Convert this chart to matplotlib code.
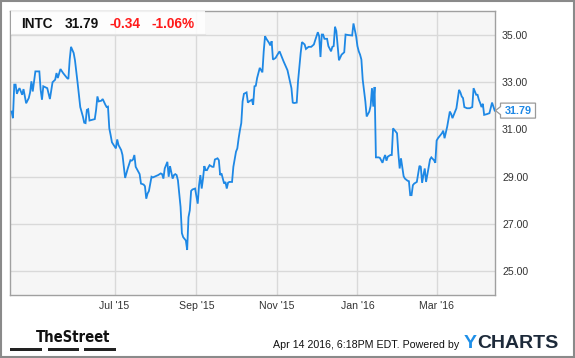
import numpy as np
import pandas as pd
import matplotlib
matplotlib.use("Agg")
import matplotlib.pyplot as plt
from matplotlib.patches import Rectangle, Polygon
from matplotlib import font_manager

# ---------------- data ----------------
start_date = "2015-04-13"
end_date = "2016-04-14"
day_offsets = [
    1, 2, 3, 4, 5, 6, 7, 9, 10, 12, 14, 15, 16, 17, 19, 22, 23, 24, 25, 28,
    30, 32, 34, 35, 36, 38, 40, 43, 44, 45, 46, 48, 49, 51, 53, 55, 56, 57, 58, 59,
    60, 62, 64, 65, 66, 67, 69, 70, 72, 73, 74, 75, 76, 77, 78, 80, 81, 82, 84, 85,
    86, 87, 89, 91, 92, 93, 94, 95, 97, 98, 99, 101, 102, 103, 104, 105, 107, 108, 110, 112,
    114, 115, 116, 117, 119, 120, 121, 123, 124, 125, 126, 127, 129, 130, 131, 133, 134, 135, 136, 137,
    138, 140, 142, 143, 144, 145, 146, 147, 148, 149, 151, 153, 154, 155, 157, 158, 159, 160, 162, 163,
    164, 165, 166, 168, 169, 171, 172, 173, 174, 175, 176, 177, 179, 180, 181, 183, 184, 185, 186, 187,
    188, 189, 191, 192, 193, 194, 196, 197, 198, 199, 201, 202, 204, 207, 210, 211, 213, 214, 215, 217,
    218, 220, 221, 223, 224, 226, 228, 230, 231, 233, 234, 235, 236, 237, 238, 240, 241, 243, 244, 245,
    246, 247, 249, 251, 253, 254, 256, 259, 260, 262, 263, 264, 265, 266, 267, 269, 270, 272, 273, 274,
    275, 276, 277, 279, 280, 282, 283, 284, 285, 286, 288, 289, 290, 292, 293, 294, 295, 296, 298, 299,
    301, 302, 303, 304, 305, 306, 308, 310, 311, 312, 313, 314, 315, 317, 318, 319, 321, 322, 323, 324,
    325, 327, 328, 329, 331, 333, 334, 335, 337, 338, 340, 341, 342, 343, 344, 346, 348, 350, 351, 353,
    354, 355, 356, 357, 358, 359, 361, 363, 365, 367,
]
prices = [
    31.75, 31.47, 32.89, 32.89, 32.50, 32.65, 32.74, 32.46, 32.70, 32.10, 32.32, 32.56, 33.03, 32.60, 33.45, 33.45, 32.67, 32.25, 32.82, 32.74,
    32.28, 32.99, 33.10, 33.38, 33.17, 33.55, 33.38, 33.17, 33.13, 33.95, 34.49, 34.23, 33.92, 32.96, 31.94, 31.54, 31.28, 31.26, 31.82, 31.85,
    31.37, 31.40, 31.43, 31.82, 32.39, 32.18, 32.21, 32.28, 32.04, 31.94, 31.96, 31.04, 30.76, 30.45, 30.36, 30.19, 30.57, 30.33, 30.12, 29.91,
    29.41, 28.94, 29.34, 29.69, 29.67, 29.72, 29.91, 29.41, 29.20, 29.10, 28.70, 28.66, 28.59, 28.06, 28.28, 28.38, 28.99, 28.96, 29.01, 29.06,
    29.13, 29.10, 28.91, 29.34, 29.62, 28.99, 29.44, 28.91, 29.06, 29.10, 29.06, 28.84, 27.71, 26.60, 26.43, 26.29, 25.89, 27.28, 27.57, 28.39,
    28.45, 28.49, 27.85, 28.63, 29.06, 28.49, 28.91, 29.44, 29.27, 29.27, 29.48, 29.41, 29.41, 29.72, 29.77, 29.69, 29.06, 29.13, 28.70, 28.77,
    28.49, 28.74, 28.77, 28.77, 29.41, 30.05, 30.19, 30.62, 30.97, 31.26, 32.18, 32.50, 32.56, 32.13, 32.18, 32.25, 32.04, 32.82, 32.84, 33.17,
    33.38, 33.60, 33.41, 34.30, 34.94, 34.83, 34.66, 34.55, 34.73, 33.95, 34.02, 34.12, 34.30, 33.88, 33.50, 33.24, 32.74, 32.13, 32.11, 32.13,
    33.03, 34.23, 34.69, 34.59, 34.40, 34.49, 34.49, 34.59, 34.77, 35.11, 34.94, 34.06, 35.01, 35.01, 34.83, 34.83, 34.52, 34.30, 34.49, 34.52,
    35.34, 35.16, 33.92, 34.16, 34.26, 35.01, 34.99, 34.97, 35.48, 34.94, 34.52, 34.30, 34.16, 33.95, 33.10, 32.18, 31.54, 31.75, 31.99, 32.74,
    31.96, 32.79, 29.81, 29.81, 29.79, 29.58, 29.77, 29.91, 29.67, 29.84, 29.91, 29.91, 31.04, 30.90, 30.83, 29.98, 29.34, 29.77, 29.01, 28.91,
    28.82, 28.80, 28.21, 28.21, 28.63, 28.70, 28.77, 29.45, 29.41, 28.73, 29.06, 29.34, 28.77, 29.41, 29.72, 29.81, 29.69, 29.58, 30.52, 30.62,
    30.69, 30.83, 30.94, 30.62, 31.11, 31.75, 31.65, 31.47, 31.75, 31.89, 32.67, 32.56, 32.39, 32.32, 31.94, 31.89, 31.89, 31.94, 32.74, 32.46,
    32.46, 32.25, 32.11, 31.94, 32.08, 31.61, 31.64, 31.68, 32.13, 31.79,
]
tick_dates = ["2015-07-01", "2015-09-01", "2015-11-01", "2016-01-01", "2016-03-01"]
tick_labels = ["Jul '15", "Sep '15", "Nov '15", "Jan '16", "Mar '16"]
y_ticks = [25, 27, 29, 31, 33, 35]
y_range = (23.97, 36.02)
ticker = "INTC"
last_price = "31.79"
change = "-0.34"
change_pct = "-1.06%"
timestamp = "Apr 14 2016, 6:18PM EDT. Powered by"

# ---------------- style ----------------
W, H = 575, 358
BLUE = "#1e88e5"
plt.rcParams["font.family"] = ["Liberation Sans", "DejaVu Sans"]

fig = plt.figure(figsize=(W / 100, H / 100), dpi=100)
fig.patch.set_facecolor("white")

L, R, T, B = 10.3, 494.7, 10.7, 295.3
ax = fig.add_axes([L / W, 1 - B / H, (R - L) / W, (B - T) / H])
ax.set_facecolor("#f6f6f6")

x = pd.to_datetime(start_date) + pd.to_timedelta(day_offsets, unit="D")
ax.plot(x, prices, color=BLUE, lw=1.3, zorder=3, solid_joinstyle="miter")

ax.set_xlim(pd.to_datetime(start_date), pd.to_datetime(end_date))
ax.set_ylim(*y_range)
ax.set_xticks(pd.to_datetime(tick_dates))
ax.set_xticklabels(tick_labels)
ax.set_yticks(y_ticks)
ax.set_yticklabels([f"{v:.2f}" for v in y_ticks])
ax.yaxis.tick_right()
ax.tick_params(axis="both", length=0, labelsize=7.6, colors="#333333")
ax.tick_params(axis="y", pad=5.3)
ax.tick_params(axis="x", pad=4.2)
ax.grid(True, color="#d9d9d9", lw=1.0)
ax.set_axisbelow(True)
for s in ax.spines.values():
    s.set_color("#a0a0a0")
    s.set_linewidth(1.0)

# overlay in pixel coordinates
ov = fig.add_axes([0, 0, 1, 1], zorder=5)
ov.set_xlim(0, W)
ov.set_ylim(H, 0)
ov.axis("off")
ov.patch.set_alpha(0)

# header box
ov.add_patch(Rectangle((L + 0.5, T + 0.5), 194.5, 22.5, facecolor="white",
                       edgecolor="none", alpha=0.85, zorder=1))
ov.plot([L + 0.5, 205], [T + 23, T + 23], color="#e4e4e4", lw=0.8, zorder=1)
hdr_y = 28.3
ov.text(21, hdr_y, ticker, fontsize=9.8, fontweight="bold", color="#111111", va="baseline")
ov.text(65, hdr_y, last_price, fontsize=9.8, fontweight="bold", color="#111111", va="baseline")
ov.text(109.3, hdr_y, change, fontsize=9.8, fontweight="bold", color="#ff1a1a", va="baseline")
ov.text(151, hdr_y, change_pct, fontsize=9.8, fontweight="bold", color="#ff1a1a", va="baseline")

# last price tag
last_val = prices[-1]
y0, y1 = y_range
yc = B - (last_val - y0) / (y1 - y0) * (B - T)
tag = Polygon([(495.5, yc), (500.5, yc - 4), (500.5, yc - 7.5), (535.5, yc - 7.5),
               (535.5, yc + 7.5), (500.5, yc + 7.5), (500.5, yc + 4)],
              closed=True, facecolor="white", edgecolor="#9a9a9a", lw=0.9, zorder=2)
ov.add_patch(tag)
ov.text(518, yc + 0.5, f"{last_val:.2f}", fontsize=7.8, fontweight="bold", color=BLUE,
        ha="center", va="center", zorder=3)

# footer: TheStreet logo (condensed font if available)
cond = font_manager.FontProperties(family="DejaVu Sans", stretch="condensed", weight="bold")
cond_file = font_manager.findfont(cond, fallback_to_default=False)
if "Condensed" in cond_file:
    logo_kw = dict(fontproperties=font_manager.FontProperties(fname=cond_file, size=10.6))
else:
    logo_kw = dict(fontsize=10.2, fontweight="bold", family=["Liberation Sans"])
ov.text(36, 341.7, "TheStreet", color="#111111", va="baseline", **logo_kw)
for bx0, bx1 in [(10.3, 42), (47.7, 78.8), (83.6, 115.9)]:
    ov.add_patch(Rectangle((bx0, 347.7), bx1 - bx0, 3.0, facecolor="#222222", edgecolor="none"))

# footer: timestamp + YCHARTS
ov.text(459, 348.3, timestamp, fontsize=7.7, color="#111111", ha="right", va="baseline")
ty = ov.text(464, 348.3, "Y", fontsize=14, fontweight="bold", color="#1e8fe8", va="baseline")
fig.canvas.draw()
bb = ty.get_window_extent(renderer=fig.canvas.get_renderer())
x_next = bb.x1 * W / fig.bbox.width
ov.text(x_next, 348.3, "CHARTS", fontsize=14, fontweight="bold", color="#1d2a3a", va="baseline")

# outer frame
ov.add_patch(Rectangle((0.75, 0.75), W - 2.0, H - 2.0, facecolor="none",
                       edgecolor="#8a8a8a", lw=1.5, zorder=10))

fig.savefig("out.png", dpi=100, facecolor="white")
